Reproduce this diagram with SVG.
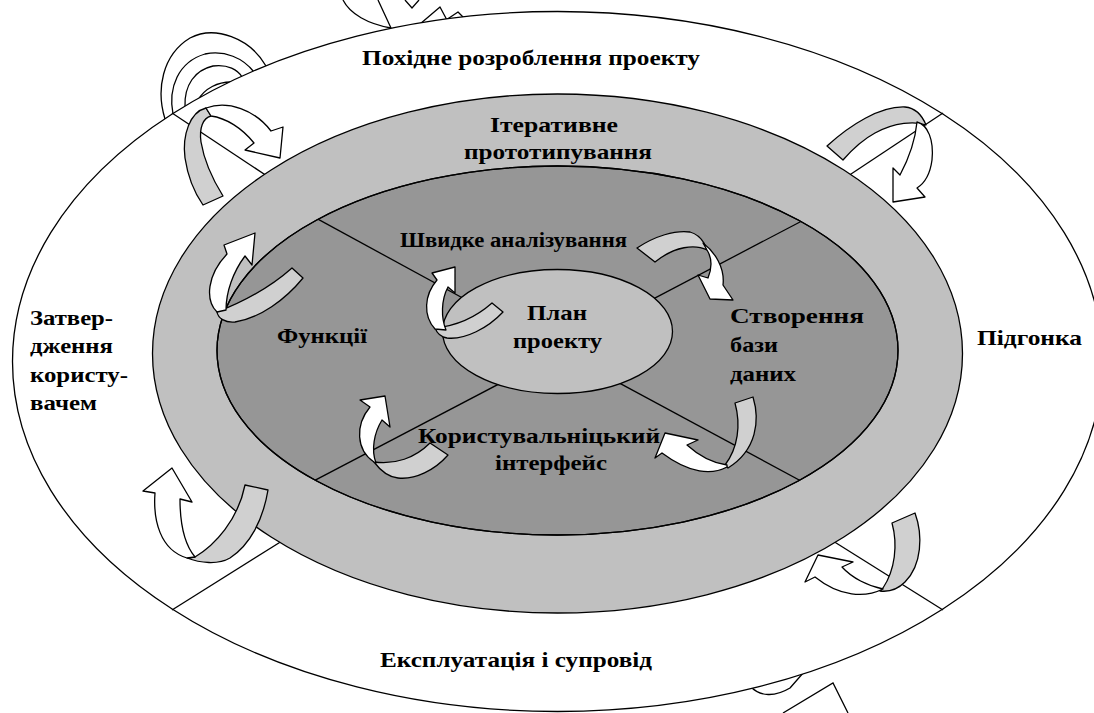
<svg xmlns="http://www.w3.org/2000/svg" width="1094" height="713" viewBox="0 0 1094 713">
<style>
.ln{stroke:#000;stroke-width:1.3;fill:none}
.sh{stroke:#000;stroke-width:1.3;stroke-linejoin:round}
.w{fill:#fff}
.g{fill:#d0d0d0}
.t{font-family:"Liberation Serif","Times New Roman",serif;font-weight:bold;font-size:22px;fill:#000}
.ts{font-size:20px}
</style>
<defs>
<clipPath id="innerClip"><ellipse cx="557.5" cy="350.5" rx="340.5" ry="184.5"/></clipPath>
</defs>
<rect width="1094" height="713" fill="#fff"/>
<g id="fragments">
<path class="ln" d="M165,119 C156,90 162,55 190,38 C215,25 250,38 266,66"/>
<path class="ln" d="M173,114 C168,88 178,62 205,54 C225,50 243,58 254,72"/>
<path class="ln" d="M185,107 C184,85 195,70 213,66 C228,64 238,70 242,77"/>
<path class="ln" d="M198,100 C205,88 218,82 231,82"/>
<path class="sh w" d="M343,0 C350,14 368,24 391,28 L378,0"/>
<path class="ln" d="M405,0 L412,8 L419,0"/>
<path class="sh w" d="M420,24 L440,7 L448,22"/>
<path class="sh w" d="M446,20 L458,12 L466,20"/>
<path class="sh w" d="M750,686 C760,697 775,697 790,688 L804,672"/>
<path class="ln" d="M783,713 L833,683 L848,713"/>
</g>
<g id="outer-ring">
<ellipse cx="557.5" cy="361.5" rx="545" ry="350" fill="#fff" stroke="#000" stroke-width="1.3"/>
</g>
<g id="connectors">
<line class="ln" x1="172" y1="113" x2="270" y2="178"/>
<line class="ln" x1="943" y1="113" x2="845" y2="178"/>
<line class="ln" x1="172" y1="610" x2="290" y2="536"/>
<line class="ln" x1="943" y1="610" x2="825" y2="536"/>
</g>
<g id="iterative-ring">
<ellipse cx="557.5" cy="353.5" rx="405" ry="259.5" fill="#c0c0c0" stroke="#000" stroke-width="1.3"/>
</g>
<g id="inner-sectors">
<ellipse cx="557.5" cy="350.5" rx="340.5" ry="184.5" fill="#969696" stroke="#000" stroke-width="1.3"/>
<g clip-path="url(#innerClip)">
<line class="ln" x1="300" y1="209.4" x2="470" y2="302"/>
<line class="ln" x1="820" y1="211.5" x2="640" y2="305.8"/>
<line class="ln" x1="510" y1="378.2" x2="300" y2="488.2"/>
<line class="ln" x1="600" y1="372.6" x2="820" y2="491.2"/>
</g>
<ellipse cx="557.5" cy="350.5" rx="340.5" ry="184.5" fill="none" stroke="#000" stroke-width="1.3"/>
</g>
<g id="project-plan">
<ellipse cx="557.5" cy="331.5" rx="115" ry="62" fill="#c0c0c0" stroke="#000" stroke-width="1.3"/>
</g>
<g id="arrows">
<g id="arrow-a">
<path class="sh g" d="M206,108 C190,112 182,135 185,158 C188,178 196,195 203,205 L223,196 C213,180 204,160 201,142 C199,128 203,118 211,116 Z"/>
<path class="sh w" d="M206,108 C228,100 255,110 271,131 L283,127 L280,158 L245,150 L254,143 C242,128 226,118 211,116 Z"/>
</g>
<g id="arrow-b">
<path class="sh g" d="M827,146 C850,125 880,106 905,107 C915,108 922,115 926,125 C915,121 895,122 875,133 C862,140 850,152 843,160 Z"/>
<path class="sh w" d="M917,122 C928,125 934,140 932,160 C930,175 925,183 917,188 L925,197 L893,202 L893,168 L900,175 C908,160 915,143 917,122 Z"/>
</g>
<g id="arrow-c">
<path class="sh g" d="M245,485 L268,490 C263,520 250,545 230,558 C218,565 200,563 187,558 L195,557 C215,545 238,520 245,485 Z"/>
<path class="sh w" d="M195,557 C185,545 180,525 180,499 L192,502 L172,468 L143,491 L155,493 C153,520 160,550 187,558 Z"/>
</g>
<g id="arrow-d">
<path class="sh g" d="M892,523 L915,513 C923,535 922,565 905,582 C897,590 888,592 880,591 L883,588 C895,570 898,545 892,523 Z"/>
<path class="sh w" d="M883,589 C865,598 840,597 815,577 L805,582 L818,555 L853,562 L842,567 C852,578 868,586 883,589 Z"/>
</g>
<g id="arrow-e">
<path class="sh g" d="M292,268 L303,278 C285,300 260,318 235,322 C225,323 218,318 217,312 C235,305 265,292 292,268 Z"/>
<path class="sh w" d="M217,312 C205,300 207,275 227,254 L224,245 L255,233 L252,265 L245,256 C233,272 226,292 226,310 Z"/>
</g>
<g id="arrow-f">
<path class="sh g" d="M492,303 L503,312 C488,328 465,340 447,338 C440,337 437,333 435,328 C455,326 475,318 492,303 Z"/>
<path class="sh w" d="M435,329 C423,316 424,295 437,280 L432,273 L455,267 L455,293 L448,287 C441,300 441,318 446,330 Z"/>
</g>
<g id="arrow-g">
<path class="sh g" d="M637,248 C655,236 675,230 690,232 C697,234 701,238 704,243 L707,250 C695,244 675,246 655,262 Z"/>
<path class="sh w" d="M703,243 C715,252 725,268 723,285 L733,300 L710,299 L698,275 L708,278 C712,268 712,258 707,250 Z"/>
</g>
<g id="arrow-h">
<path class="sh g" d="M735,403 L753,397 C760,420 757,450 728,468 L725,465 C738,448 741,425 735,403 Z"/>
<path class="sh w" d="M727,467 C712,475 690,474 662,453 L655,458 L665,433 L698,440 L687,445 C698,455 712,463 727,465 Z"/>
</g>
<g id="arrow-i">
<path class="sh g" d="M430,443 L448,455 C435,470 415,480 398,478 C388,477 380,470 374,462 C395,465 415,458 430,443 Z"/>
<path class="sh w" d="M374,462 C356,450 355,425 370,407 L360,400 L385,396 L390,427 L382,420 C374,433 371,450 376,463 Z"/>
</g>
</g>
<g id="labels">
<text class="t" x="362" y="65" textLength="338" lengthAdjust="spacingAndGlyphs">Похідне розроблення проекту</text>
<text class="t" x="490" y="132" textLength="128" lengthAdjust="spacingAndGlyphs">Ітеративне</text>
<text class="t" x="464" y="159" textLength="188" lengthAdjust="spacingAndGlyphs">прототипування</text>
<text class="t ts" x="400" y="247" textLength="227" lengthAdjust="spacingAndGlyphs">Швидке аналізування</text>
<text class="t" x="527" y="320" textLength="60" lengthAdjust="spacingAndGlyphs">План</text>
<text class="t" x="513" y="348" textLength="89" lengthAdjust="spacingAndGlyphs">проекту</text>
<text class="t" x="277" y="343" textLength="90" lengthAdjust="spacingAndGlyphs">Функції</text>
<text class="t" x="730" y="323" textLength="134" lengthAdjust="spacingAndGlyphs">Створення</text>
<text class="t" x="730" y="352" textLength="48" lengthAdjust="spacingAndGlyphs">бази</text>
<text class="t" x="730" y="381" textLength="66" lengthAdjust="spacingAndGlyphs">даних</text>
<text class="t" x="977" y="345" textLength="105" lengthAdjust="spacingAndGlyphs">Підгонка</text>
<text class="t" x="30" y="325" textLength="83" lengthAdjust="spacingAndGlyphs">Затвер-</text>
<text class="t" x="30" y="353" textLength="83" lengthAdjust="spacingAndGlyphs">дження</text>
<text class="t" x="30" y="382" textLength="98" lengthAdjust="spacingAndGlyphs">користу-</text>
<text class="t" x="30" y="410" textLength="67" lengthAdjust="spacingAndGlyphs">вачем</text>
<text class="t" x="418" y="443" textLength="242" lengthAdjust="spacingAndGlyphs">Користувальніцький</text>
<text class="t" x="495" y="470" textLength="112" lengthAdjust="spacingAndGlyphs">інтерфейс</text>
<text class="t" x="380" y="667" textLength="272" lengthAdjust="spacingAndGlyphs">Експлуатація і супровід</text>
</g>
</svg>
